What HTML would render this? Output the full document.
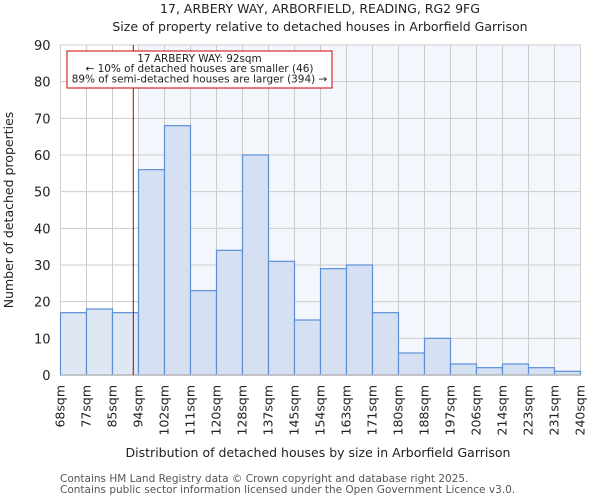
<!DOCTYPE html>
<html><head><meta charset="utf-8"><style>
body{margin:0;background:#fff;font-family:"DejaVu Sans","Liberation Sans",sans-serif;}
svg text{font-family:"DejaVu Sans","Liberation Sans",sans-serif;}
</style></head><body>
<svg id="chart" width="600" height="500" xmlns="http://www.w3.org/2000/svg">
<text x="320" y="13" font-size="12.5" text-anchor="middle" fill="#222">17, ARBERY WAY, ARBORFIELD, READING, RG2 9FG</text>
<text x="320" y="31" font-size="12.5" text-anchor="middle" fill="#222">Size of property relative to detached houses in Arborfield Garrison</text>
<g id="plot"></g>
<text x="318" y="457" font-size="12.5" text-anchor="middle" fill="#222">Distribution of detached houses by size in Arborfield Garrison</text>
<text x="13" y="210" font-size="12.5" text-anchor="middle" fill="#222" transform="rotate(-90 13 210)">Number of detached properties</text>
<text x="60" y="482" font-size="10.5" fill="#555">Contains HM Land Registry data © Crown copyright and database right 2025.</text>
<text x="60" y="493" font-size="10.5" fill="#555">Contains public sector information licensed under the Open Government Licence v3.0.</text>
</svg>
<script>
const edgeLabels=["68sqm","77sqm","85sqm","94sqm","102sqm","111sqm","120sqm","128sqm","137sqm","145sqm","154sqm","163sqm","171sqm","180sqm","188sqm","197sqm","206sqm","214sqm","223sqm","231sqm","240sqm"];
const counts=[17,18,17,56,68,23,34,60,31,15,29,30,17,6,10,3,2,3,2,1];
const yTicks=[0,10,20,30,40,50,60,70,80,90];
const markerBin=2.8;
const NS="http://www.w3.org/2000/svg";
const L=60.5,R=580.5,T=45,B=375,yMax=90;
const bw=(R-L)/counts.length;
const xs=i=>L+i*bw;
const ys=v=>B-v/yMax*(B-T);
const g=document.getElementById('plot');
function mk(t,a){const e=document.createElementNS(NS,t);for(const k in a)e.setAttribute(k,a[k]);g.appendChild(e);return e;}
const mx=xs(markerBin);
const hl=mk('rect',{x:xs(3),y:T,width:R-xs(3),height:B-T,fill:'#f3f6fd'});


for(let i=0;i<=counts.length;i++){const l=mk('line',{x1:xs(i),x2:xs(i),y1:T,y2:B,stroke:'#cccccc','stroke-width':1});

}
yTicks.forEach(v=>{const l=mk('line',{x1:L,x2:R,y1:ys(v),y2:ys(v),stroke:'#cccccc','stroke-width':1});


const t=mk('text',{x:L-10,y:ys(v)+5,'font-size':13,'text-anchor':'end',fill:'#222'});t.textContent=v;

});
counts.forEach((c,i)=>{const r=mk('rect',{x:xs(i),y:ys(c),width:bw,height:B-ys(c),fill:i<3?'#dfe7f5':'#d6e0f3',stroke:'#5b8fd6','stroke-width':1.2});

});
edgeLabels.forEach((s,i)=>{const x=xs(i)+4,y=385;const t=mk('text',{x:x,y:y,'font-size':12.5,'text-anchor':'end',fill:'#222',transform:`rotate(-90 ${x} ${y})`});t.textContent=s;

});
const ax=mk('line',{x1:L,x2:R,y1:B,y2:B,stroke:'#bbb','stroke-width':1.5});


const ml=mk('line',{x1:mx,x2:mx,y1:T,y2:B,stroke:'#b00000','stroke-width':1});


const box=mk('rect',{x:67,y:51,width:265,height:37,fill:'#fff',stroke:'#cc0000','stroke-width':1});


["17 ARBERY WAY: 92sqm","← 10% of detached houses are smaller (46)","89% of semi-detached houses are larger (394) →"].forEach((s,i)=>{const t=mk('text',{x:199.5,y:62+i*10.2,'font-size':10.45,'text-anchor':'middle',fill:'#222'});t.textContent=s;

});
</script>
</body></html>
